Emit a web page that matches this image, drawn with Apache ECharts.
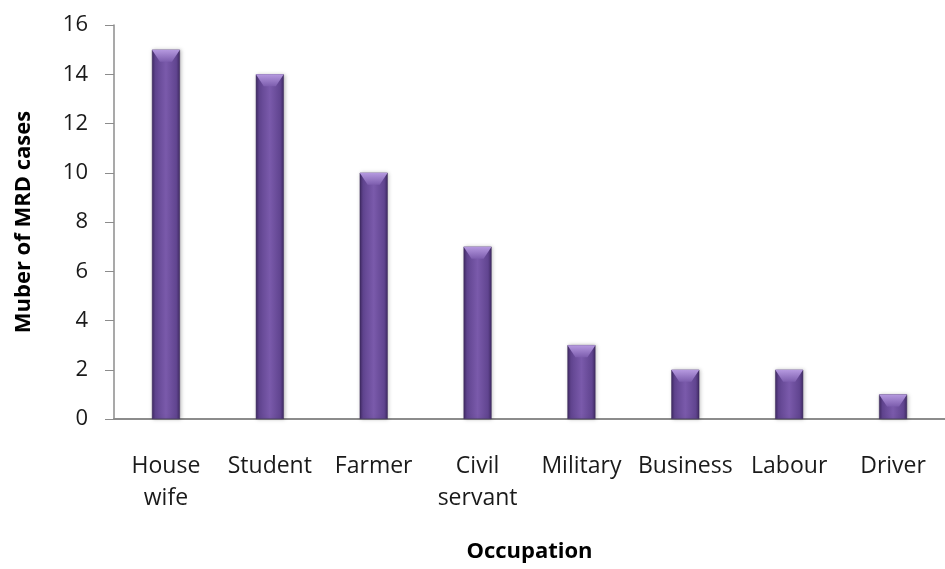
<!DOCTYPE html>
<html>
<head>
<meta charset="utf-8">
<script src="https://cdn.jsdelivr.net/npm/echarts@6/dist/echarts.min.js"></script>
<style>
  html, body { margin: 0; padding: 0; background: #fff; }
  #chart { width: 945px; height: 569px; }
</style>
</head>
<body>
<div id="chart"></div>
<script>
// Occupation categories (line breaks as shown under the axis)
const occupations = ['House\nwife', 'Student', 'Farmer', 'Civil\nservant', 'Military', 'Business', 'Labour', 'Driver'];
// Number of MRD cases per occupation
const mrdCases = [15, 14, 10, 7, 3, 2, 2, 1];
// Y-axis scale
const yMin = 0;
const yMax = 16;
const yStep = 2;

const FONT = '"Open Sans", "Noto Sans", sans-serif';

const chart = echarts.init(document.getElementById('chart'));

// Body of each column: darker edges, lighter centre for a rounded look
const bodyFill = new echarts.graphic.LinearGradient(0, 0, 1, 0, [
  { offset: 0, color: '#3f2a63' },
  { offset: 0.12, color: '#60448f' },
  { offset: 0.5, color: '#7a5aab' },
  { offset: 0.88, color: '#60448f' },
  { offset: 1, color: '#3f2a63' }
]);

// Bevelled cap on top of each column
const capFill = new echarts.graphic.LinearGradient(0, 0, 0, 1, [
  { offset: 0, color: '#b69ae0' },
  { offset: 1, color: '#7d5eae' }
]);

chart.setOption({
  animation: false,
  grid: { left: 114, top: 25, width: 845, height: 394, containLabel: false },
  xAxis: {
    type: 'category',
    data: occupations,
    name: 'Occupation',
    nameLocation: 'middle',
    nameGap: 122,
    nameTextStyle: { fontFamily: FONT, fontSize: 22, fontWeight: 'bold', color: '#000' },
    axisLine: { lineStyle: { color: '#8c8c8c', width: 2 } },
    axisTick: { show: false },
    axisLabel: {
      fontFamily: FONT, fontSize: 23, color: '#1a1a1a', margin: 31, lineHeight: 32,
      interval: 0
    }
  },
  yAxis: {
    type: 'value',
    min: yMin,
    max: yMax,
    interval: yStep,
    name: 'Muber of MRD cases',
    nameLocation: 'middle',
    nameGap: 79,
    nameTextStyle: { fontFamily: FONT, fontSize: 22, fontWeight: 'bold', color: '#000' },
    splitLine: { show: false },
    axisLine: { show: true, lineStyle: { color: '#8c8c8c', width: 1.5 } },
    axisTick: { show: true, inside: false, length: 9, lineStyle: { color: '#8c8c8c' } },
    axisLabel: { fontFamily: FONT, fontSize: 22, color: '#1a1a1a', margin: 26 }
  },
  series: [
    {
      type: 'bar',
      data: mrdCases,
      barWidth: 28,
      itemStyle: {
        color: bodyFill,
        borderColor: '#3a2858',
        borderWidth: 0.5,
        shadowColor: 'rgba(0,0,0,0.25)',
        shadowBlur: 4,
        shadowOffsetX: 1
      },
      z: 2
    },
    {
      type: 'pictorialBar',
      data: mrdCases,
      symbol: 'path://M0,0 L28,0 L20,10 L8,10 Z',
      symbolSize: [28, 12],
      symbolPosition: 'end',
      symbolOffset: [0, 0],
      itemStyle: { color: capFill },
      z: 3,
      silent: true
    }
  ]
});
</script>
</body>
</html>
